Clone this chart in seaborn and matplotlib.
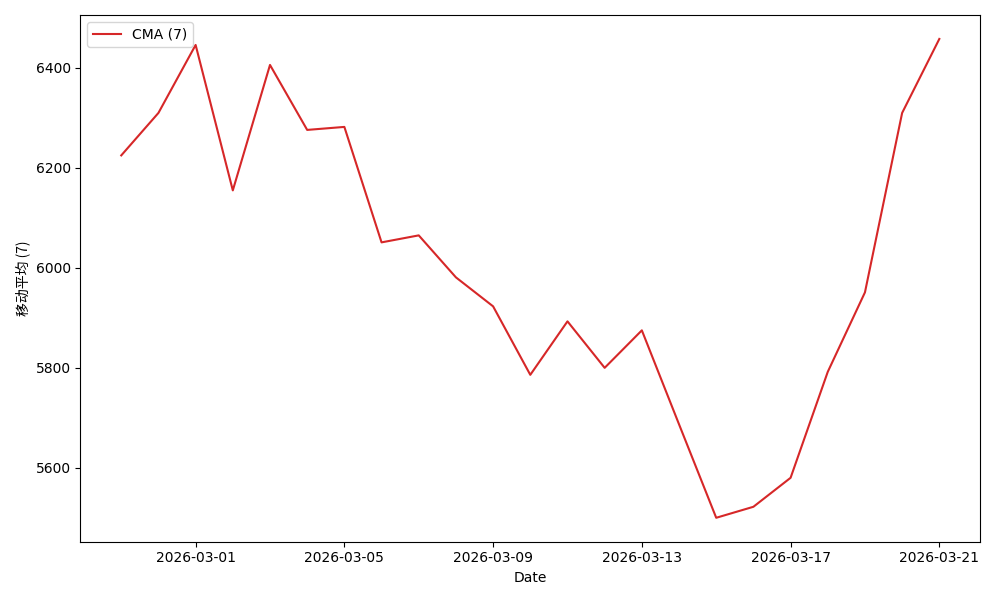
import numpy as np
import pandas as pd
import matplotlib
matplotlib.use('Agg')
import matplotlib.pyplot as plt
import matplotlib.dates as mdates
import seaborn as sns

plt.rcParams['font.family'] = ['DejaVu Sans', 'Noto Sans CJK SC']

# ── data ───────────────────────────────────────────────────────────────────
dates = pd.date_range("2026-02-27", "2026-03-21", freq="D")
cma_values = [6225, 6310, 6446, 6155, 6406, 6276, 6282, 6051, 6065, 5981,
              5923, 5786, 5893, 5800, 5875, 5687, 5500, 5522, 5580, 5792,
              5951, 6310, 6458]
tick_dates = pd.date_range("2026-03-01", "2026-03-21", freq="4D")

df = pd.DataFrame({"Date": dates, "CMA": cma_values})

fig, ax = plt.subplots(figsize=(10, 6), dpi=100)
sns.lineplot(data=df, x="Date", y="CMA", color="#d62728", label="CMA (7)", ax=ax)

ax.set_xticks(tick_dates)
ax.xaxis.set_major_formatter(mdates.DateFormatter("%Y-%m-%d"))
ax.set_yticks([5600, 5800, 6000, 6200, 6400])
ax.set_xlabel("Date")
ax.set_ylabel("移动平均 (7)", family=['Noto Sans CJK SC', 'DejaVu Sans'])
ax.legend(loc="upper left")

plt.tight_layout()
plt.savefig("out.png")
plt.close()
